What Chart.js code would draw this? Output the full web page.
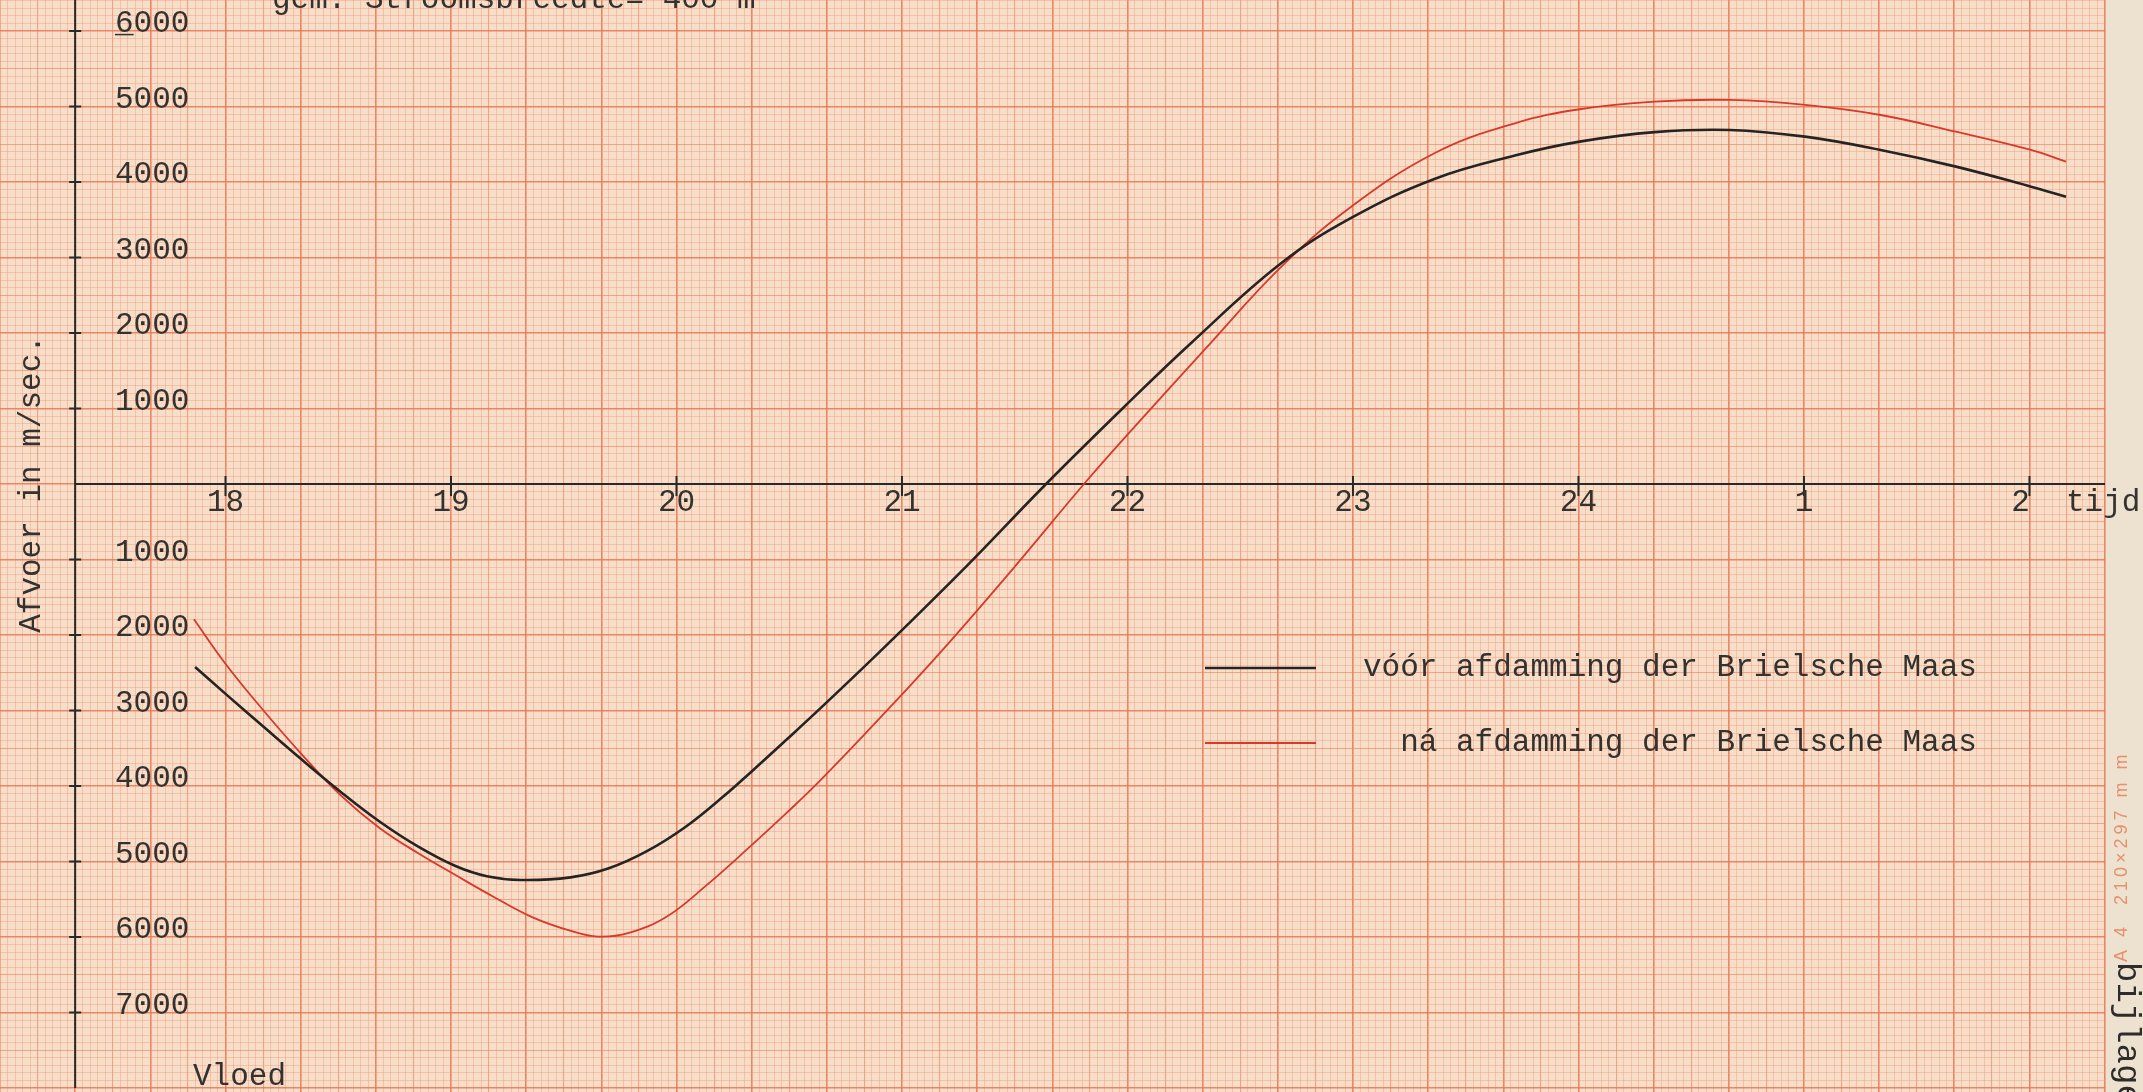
<!DOCTYPE html>
<html>
<head>
<meta charset="utf-8">
<title>Afvoer Brielsche Maas</title>
<script src="https://cdn.jsdelivr.net/npm/chart.js@4.4.1/dist/chart.umd.min.js"></script>
<style>
  html, body { margin: 0; padding: 0; background: #ede1d0; overflow: hidden; }
  canvas { display: block; }
</style>
</head>
<body>
<canvas id="afvoerChart" width="2143" height="1092"></canvas>
<script>
// tijd in uren: 24 = middernacht, 25 = 1 uur, 26 = 2 uur
const voorHours = [17.865, 18.004, 18.174, 18.326, 18.51, 18.683, 18.853, 19.02, 19.159, 19.31,
  19.53, 19.70, 19.871, 20.041, 20.21, 20.326, 20.48, 20.64, 20.926, 21.292,
  21.639, 21.985, 22.28, 22.677, 22.99, 23.361, 23.718, 24.005, 24.338, 24.672,
  25.005, 25.34, 25.674, 26.007, 26.162];
const voorFlow = [-2424, -2790, -3230, -3620, -4075, -4470, -4800, -5060, -5195, -5245,
  -5210, -5090, -4860, -4540, -4134, -3827, -3408, -2966, -2151, -1071,
  0, 1020, 1861, 2913, 3520, 4040, 4350, 4534, 4660, 4689,
  4600, 4424, 4203, 3938, 3805];

const naHours = [17.86, 18.004, 18.174, 18.344, 18.51, 18.683, 18.853, 19.02, 19.19, 19.362,
  19.532, 19.651, 19.785, 19.956, 20.126, 20.326, 20.48, 20.64, 20.94, 21.203,
  21.49, 21.807, 22.005, 22.341, 22.677, 22.973, 23.361, 23.718, 24.005, 24.338,
  24.672, 25.005, 25.34, 25.674, 26.007, 26.162];
const naFlow = [-1792, -2397, -3020, -3600, -4120, -4556, -4888, -5180, -5470, -5740,
  -5920, -5995, -5950, -5731, -5333, -4804, -4380, -3920, -2980, -2120,
  -1130, 0, 671, 1775, 2861, 3629, 4380, 4777, 4963, 5064,
  5086, 5020, 4887, 4666, 4424, 4269];

const seriesNames = ["vóór afdamming der Brielsche Maas", "ná afdamming der Brielsche Maas"];

const hourTicks = [18, 19, 20, 21, 22, 23, 24, 25, 26];
const hourLabels = ["18", "19", "20", "21", "22", "23", "24", "1", "2"];
const flowTicks = [6000, 5000, 4000, 3000, 2000, 1000, -1000, -2000, -3000, -4000, -5000, -6000, -7000];
const flowLabels = ["6000", "5000", "4000", "3000", "2000", "1000", "1000", "2000", "3000", "4000", "5000", "6000", "7000"];

const TYPE_FONT = "31px 'Liberation Mono', 'DejaVu Sans Mono', monospace";
const INK = "#34322f";

// millimeterpapier: fijn (1 mm), half (5 mm), dik (1 cm)
function gridColor(n) {
  n = Math.abs(n);
  if (n % 10 === 0) return "rgba(234,118,84,0.85)";
  if (n % 5 === 0) return "rgba(236,128,94,0.62)";
  return "rgba(240,146,116,0.45)";
}
function gridWidth(n) {
  n = Math.abs(n);
  if (n % 10 === 0) return 1.6;
  if (n % 5 === 0) return 1.1;
  return 0.85;
}

const paperPlugin = {
  id: "paper",
  beforeDraw(chart) {
    const { ctx, chartArea: a } = chart;
    ctx.save();
    ctx.fillStyle = "#ede1d0";
    ctx.fillRect(0, 0, chart.width, chart.height);
    ctx.fillStyle = "#f7dec9";
    ctx.fillRect(a.left, a.top, a.right - a.left, a.bottom - a.top);
    ctx.restore();
  }
};

const axesPlugin = {
  id: "typedAxes",
  beforeDatasetsDraw(chart) {
    const { ctx, chartArea: a } = chart;
    const xs = chart.scales.x, ys = chart.scales.y;
    const x0 = xs.getPixelForValue(17 + 1 / 3);
    const y0 = ys.getPixelForValue(0);
    ctx.save();
    ctx.strokeStyle = "#2b2927";
    ctx.lineWidth = 2;
    ctx.beginPath();
    ctx.moveTo(x0, a.top);
    ctx.lineTo(x0, a.bottom - 4);
    ctx.moveTo(x0, y0);
    ctx.lineTo(a.right, y0);
    flowTicks.forEach(v => {
      const y = ys.getPixelForValue(v);
      ctx.moveTo(x0 - 6, y);
      ctx.lineTo(x0 + 6, y);
    });
    hourTicks.forEach(h => {
      const x = xs.getPixelForValue(h);
      ctx.moveTo(x, y0 - 8);
      ctx.lineTo(x, y0 + 12);
    });
    ctx.stroke();
    ctx.restore();
  },
  afterDraw(chart) {
    const { ctx } = chart;
    const xs = chart.scales.x, ys = chart.scales.y;
    const y0 = ys.getPixelForValue(0);
    ctx.save();
    ctx.font = TYPE_FONT;
    ctx.fillStyle = INK;

    // uren langs de tijdas
    ctx.textAlign = "center";
    ctx.textBaseline = "middle";
    hourTicks.forEach((h, i) => {
      const shift = hourLabels[i] === "2" ? -9 : 0;
      ctx.fillText(hourLabels[i], xs.getPixelForValue(h) + shift, y0 + 19);
    });
    ctx.textAlign = "left";
    ctx.fillText("tijd", 2066, y0 + 19);

    // afvoerwaarden rechts van de as
    flowTicks.forEach((v, i) => {
      ctx.fillText(flowLabels[i], 115, ys.getPixelForValue(v) - 7);
    });
    ctx.fillText("_", 115, ys.getPixelForValue(flowTicks[0]) - 7);

    // astitel
    ctx.save();
    ctx.translate(32, y0);
    ctx.rotate(-Math.PI / 2);
    ctx.textAlign = "center";
    ctx.fillText("Afvoer in m/sec.", 0, 0);
    ctx.restore();

    ctx.fillText("Vloed", 193, 1077);

    ctx.textBaseline = "alphabetic";
    ctx.fillText("gem. Stroomsbreedte= 400 m", 272, 8);

    // legenda
    ctx.textBaseline = "middle";
    const ds = chart.data.datasets;
    const rows = [668, 743];
    const textLeft = 1363;
    const textRight = textLeft + ctx.measureText(ds[0].label).width;
    ds.forEach((d, i) => {
      ctx.strokeStyle = d.borderColor;
      ctx.lineWidth = d.borderWidth;
      ctx.beginPath();
      ctx.moveTo(1205, rows[i]);
      ctx.lineTo(1316, rows[i]);
      ctx.stroke();
      ctx.textAlign = "right";
      ctx.fillText(d.label, textRight, rows[i]);
    });

    // rand van het papier
    ctx.save();
    ctx.translate(2122, 962);
    ctx.rotate(-Math.PI / 2);
    ctx.textAlign = "left";
    ctx.fillStyle = "#e8906c";
    ctx.font = "18px 'Liberation Sans', sans-serif";
    if ("letterSpacing" in ctx) ctx.letterSpacing = "4px";
    ctx.fillText("A 4  210×297 m m", 0, 0);
    ctx.restore();

    ctx.save();
    ctx.translate(2127, 962);
    ctx.rotate(Math.PI / 2);
    ctx.textAlign = "left";
    ctx.font = "34px 'Liberation Mono', monospace";
    ctx.fillStyle = "#2e2c2a";
    ctx.fillText("bijlage", 0, 0);
    ctx.restore();

    ctx.restore();
  }
};

const ctx = document.getElementById("afvoerChart").getContext("2d");
const chart = new Chart(ctx, {
  type: "line",
  data: {
    datasets: [{
      label: seriesNames[0],
      data: voorHours.map((h, i) => ({ x: h, y: voorFlow[i] })),
      borderColor: "#262422",
      borderWidth: 2.6,
      pointRadius: 0,
      tension: 0.4,
      fill: false
    }, {
      label: seriesNames[1],
      data: naHours.map((h, i) => ({ x: h, y: naFlow[i] })),
      borderColor: "#d8392b",
      borderWidth: 1.8,
      pointRadius: 0,
      tension: 0.4,
      fill: false
    }]
  },
  options: {
    responsive: false,
    animation: false,
    layout: { padding: { left: 0, top: 0, right: 38, bottom: 0 } },
    plugins: {
      legend: { display: false },
      tooltip: { enabled: false }
    },
    scales: {
      x: {
        type: "linear",
        min: 17,
        max: 26.335,
        ticks: { display: false, stepSize: 1 / 30, includeBounds: false },
        grid: {
          drawTicks: false,
          color: c => gridColor(Math.round(c.tick.value * 30)),
          lineWidth: c => gridWidth(Math.round(c.tick.value * 30))
        },
        border: { display: false }
      },
      y: {
        type: "linear",
        min: -8053,
        max: 6410,
        ticks: { display: false, stepSize: 100, includeBounds: false },
        grid: {
          drawTicks: false,
          color: c => gridColor(Math.round(c.tick.value / 100)),
          lineWidth: c => gridWidth(Math.round(c.tick.value / 100))
        },
        border: { display: false }
      }
    }
  },
  plugins: [paperPlugin, axesPlugin]
});
</script>
</body>
</html>
